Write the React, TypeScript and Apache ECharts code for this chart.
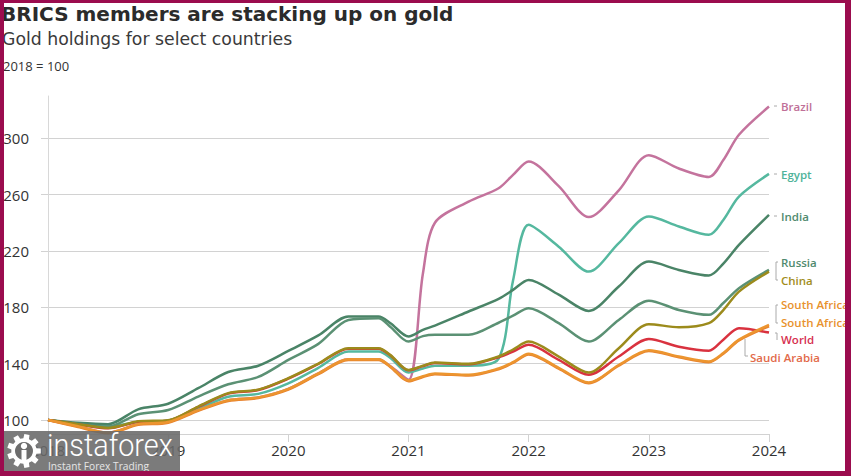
import React, { useEffect, useRef } from 'react';
import * as echarts from 'echarts';

// ---------- data ----------
const dates = [2018.0, 2018.25, 2018.5, 2018.75, 2019.0, 2019.25, 2019.5, 2019.75, 2020.0, 2020.25, 2020.5, 2020.75, 2020.85, 2021.0, 2021.12, 2021.22, 2021.5, 2021.75, 2021.87, 2022.0, 2022.25, 2022.5, 2022.75, 2023.0, 2023.25, 2023.5, 2023.62, 2023.75, 2024.0];

const brazil = [100, 95.5, 91, 97, 98.5, 107, 114, 116, 122, 133, 143, 143, 138, 128.5, 204, 240, 255, 264.5, 274, 283.5, 266, 244, 263, 288, 278.5, 272.5, 284.5, 302.5, 322.5];
const egypt = [100, 97.5, 95.5, 98.5, 99.5, 108, 116.5, 118.5, 126, 137, 148.5, 148.5, 144, 133.6, 136.5, 138.5, 138.5, 143.5, 199, 238.5, 223, 205.3, 225.5, 244.4, 237.3, 231.4, 242, 258.6, 274.7];
const india = [100, 98, 97, 107.5, 111.5, 122.5, 134, 138.5, 149, 160, 173.4, 173.4, 168.6, 159.2, 164, 167, 177, 186, 192.3, 199.4, 189, 177.4, 194.7, 212.4, 206.5, 202.5, 211, 224.3, 245.6];
const russia = [100, 97, 95.3, 104, 107, 116.6, 125.3, 130.5, 142.6, 154, 171, 172.2, 166, 155.6, 159.5, 160.5, 160.4, 169, 174, 179.3, 168.7, 155.6, 171, 184.7, 178.1, 174.6, 183, 193.5, 206.5];
const china = [100, 97, 94.3, 99, 99.8, 109.5, 119, 121.5, 129.6, 140, 150.9, 150.9, 146, 135.5, 138.5, 140.7, 139.8, 145, 150, 155.6, 145, 133.6, 150.9, 168, 165.8, 168.7, 178, 191.1, 205.3];
const world = [100, 96.8, 94, 98.7, 99.5, 109.2, 118.7, 121.2, 129.3, 139.7, 150.6, 150.6, 145.7, 135.2, 138.2, 140.4, 139.5, 144.5, 148.5, 153.3, 142.6, 132, 145, 157.5, 152, 149.2, 157, 165.1, 162];
const southAfrica = [100, 95.5, 91, 97, 98.5, 107, 114, 116, 122, 133, 143, 143, 138, 128, 131, 133, 132, 136.5, 141, 147, 137, 126.5, 139, 149.5, 145, 141.5, 147.5, 157, 167.5];
const saudiArabia = [100, 95, 90.5, 96.5, 98, 106.5, 113.5, 115.5, 121.5, 132.5, 142.5, 142.5, 137.5, 127.5, 130.5, 132.5, 131.5, 136, 140.5, 146.5, 136.5, 126, 138.5, 149, 144.5, 141, 147, 156.5, 166.5];

const yTicks = [100, 140, 180, 220, 260, 300];
const xYears = [2018, 2019, 2020, 2021, 2022, 2023, 2024];

const seriesDefs = [
  { name: 'Brazil', values: brazil, color: '#c4739d' },
  { name: 'Egypt', values: egypt, color: '#55b89f' },
  { name: 'India', values: india, color: '#4a8467' },
  { name: 'Russia', values: russia, color: '#5b9174' },
  { name: 'World', values: world, color: '#d9323f' },
  { name: 'China', values: china, color: '#9c8b1c' },
  { name: 'Saudi Arabia', values: saudiArabia, color: '#e8822f' },
  { name: 'South Africa', values: southAfrica, color: '#ec952f' },
];

const FONT = '"Open Sans", "Noto Sans", sans-serif';
const WIDE = '"DejaVu Sans", "Open Sans", sans-serif';

let registered = false;
function gearPath(cx: number, cy: number, ro: number, ri: number, teeth: number) {
  const pts: string[] = [];
  const step = (Math.PI * 2) / teeth;
  for (let i = 0; i < teeth; i++) {
    const a = i * step;
    const a1 = a - step * 0.22;
    const a2 = a + step * 0.22;
    const b1 = a + step * 0.32;
    const b2 = a + step * 0.68;
    const p = (r: number, t: number) => `${(cx + r * Math.cos(t)).toFixed(2)} ${(cy + r * Math.sin(t)).toFixed(2)}`;
    pts.push((i === 0 ? 'M' : 'L') + p(ro, a1));
    pts.push('L' + p(ro, a2));
    pts.push('L' + p(ri, b1));
    pts.push('L' + p(ri, b2));
  }
  return pts.join(' ') + ' Z';
}

export default function App() {
  const ref = useRef<HTMLDivElement>(null);
  useEffect(() => {
    if (!ref.current) return;
    if (!registered) {
      echarts.graphic.registerShape('igear', echarts.graphic.extendPath(gearPath(20, 20, 20, 15, 9), {}) as any);
      registered = true;
    }
    const chart = echarts.init(ref.current, undefined, { renderer: 'svg' });
    const labelStyle = (text: string, x: number, y: number, color: string) => ({
      type: 'text', x, y, z: 50,
      style: { text, fill: color, font: `600 11.5px ${FONT}`, textVerticalAlign: 'middle' },
    });
    const lineEl = (x1: number, y1: number, x2: number, y2: number) => ({
      type: 'line', z: 50, shape: { x1, y1, x2, y2 }, style: { stroke: '#aaaaaa', lineWidth: 1 },
    });
    const border = '#9b0c4e';
    const option: any = {
      animation: false,
      backgroundColor: '#ffffff',
      grid: { left: 48, right: 82, top: 96, bottom: 42 },
      xAxis: {
        type: 'value', min: 2018, max: 2024, interval: 1,
        axisLine: { show: true, lineStyle: { color: '#d2d2d2', width: 1 } },
        axisTick: { show: true, length: 8, lineStyle: { color: '#d2d2d2' } },
        axisLabel: { color: '#333', fontSize: 15, fontFamily: FONT, margin: 8, formatter: (v: number) => (xYears.includes(v) ? String(v) : '') },
        splitLine: { show: false },
      },
      yAxis: {
        type: 'value', min: 90, max: 330,
        axisLine: { show: true, lineStyle: { color: '#d8d8d8' } },
        axisTick: { show: true, length: 7, customValues: yTicks, lineStyle: { color: '#d2d2d2' } },
        axisLabel: { customValues: yTicks, color: '#333', fontSize: 15, fontFamily: FONT, margin: 19 },
        splitLine: { show: true, lineStyle: { color: '#d2d2d2', width: 1 } },
      },
      series: seriesDefs.map((s) => ({
        name: s.name,
        type: 'line',
        data: dates.map((d, i) => [d, s.values[i]]),
        smooth: 0.3,
        showSymbol: false,
        lineStyle: { color: s.color, width: 2.5 },
        itemStyle: { color: s.color },
      })),
      graphic: [
        { type: 'text', x: 1, y: 4, z: 40, style: { text: 'BRICS members are stacking up on gold', fill: '#2b2b2b', font: `700 20px ${WIDE}` } },
        { type: 'text', x: 2, y: 30, z: 40, style: { text: 'Gold holdings for select countries', fill: '#3a3a3a', font: `400 17.3px ${WIDE}` } },
        { type: 'text', x: 3, y: 59, z: 40, style: { text: '2018 = 100', fill: '#333', font: `400 13px ${FONT}` } },
        lineEl(774, 106, 777, 106),
        labelStyle('Brazil', 781, 106, '#c06f98'),
        lineEl(774, 174, 777, 174),
        labelStyle('Egypt', 781, 174, '#4fb39a'),
        lineEl(774, 216, 777, 216),
        labelStyle('India', 781, 216, '#4f8a6e'),
        { type: 'polyline', z: 50, shape: { points: [[778, 262], [776, 262], [776, 280], [778, 280]] }, style: { stroke: '#aaa', fill: 'none', lineWidth: 1 } },
        labelStyle('Russia', 781, 262, '#4f8a6e'),
        labelStyle('China', 781, 280, '#a28d1c'),
        { type: 'polyline', z: 50, shape: { points: [[778, 305], [776, 305], [776, 323], [778, 323]] }, style: { stroke: '#aaa', fill: 'none', lineWidth: 1 } },
        labelStyle('South Africa', 781, 304, '#e8922d'),
        labelStyle('South Africa', 781, 322, '#e8922d'),
        { type: 'polyline', z: 50, shape: { points: [[775, 333], [777, 333], [777, 340]] }, style: { stroke: '#aaa', fill: 'none', lineWidth: 1 } },
        labelStyle('World', 781, 339, '#d6304f'),
        { type: 'polyline', z: 50, shape: { points: [[745, 339], [745, 356], [748, 356]] }, style: { stroke: '#aaa', fill: 'none', lineWidth: 1 } },
        labelStyle('Saudi Arabia', 750, 357, '#e26a4a'),
        // watermark
        { type: 'rect', z: 60, shape: { x: 0, y: 431, width: 180, height: 41 }, style: { fill: 'rgba(105,105,105,0.88)' } },
        { type: 'igear', z: 61, x: 7, y: 434, scaleX: 0.85, scaleY: 0.85, style: { fill: '#ffffff' } },
        { type: 'circle', z: 62, shape: { cx: 24, cy: 451, r: 9 }, style: { fill: '#6d6d6d' } },
        { type: 'circle', z: 63, shape: { cx: 24, cy: 446, r: 3.2 }, style: { fill: '#ffffff' } },
        { type: 'rect', z: 63, shape: { x: 21.5, y: 450, width: 5, height: 12 }, style: { fill: '#ffffff' } },
        { type: 'text', z: 61, x: 47, y: 430, scaleX: 0.93, style: { text: 'instaforex', fill: '#ffffff', font: `300 31px Roboto, ${FONT}` } },
        { type: 'text', z: 61, x: 48, y: 461, style: { text: 'Instant Forex Trading', fill: '#e6e6e6', font: `400 10.2px ${FONT}` } },
        // border
        { type: 'rect', z: 100, shape: { x: 0, y: 0, width: 851, height: 3 }, style: { fill: border } },
        { type: 'rect', z: 100, shape: { x: 0, y: 0, width: 4, height: 476 }, style: { fill: border } },
        { type: 'rect', z: 100, shape: { x: 845, y: 0, width: 6, height: 476 }, style: { fill: border } },
        { type: 'rect', z: 100, shape: { x: 0, y: 471, width: 851, height: 5 }, style: { fill: border } },
      ],
    };
    chart.setOption(option);
    return () => chart.dispose();
  }, []);
  return <div ref={ref} style={{ position: 'fixed', left: 0, top: 0, width: 851, height: 476 }} />;
}
